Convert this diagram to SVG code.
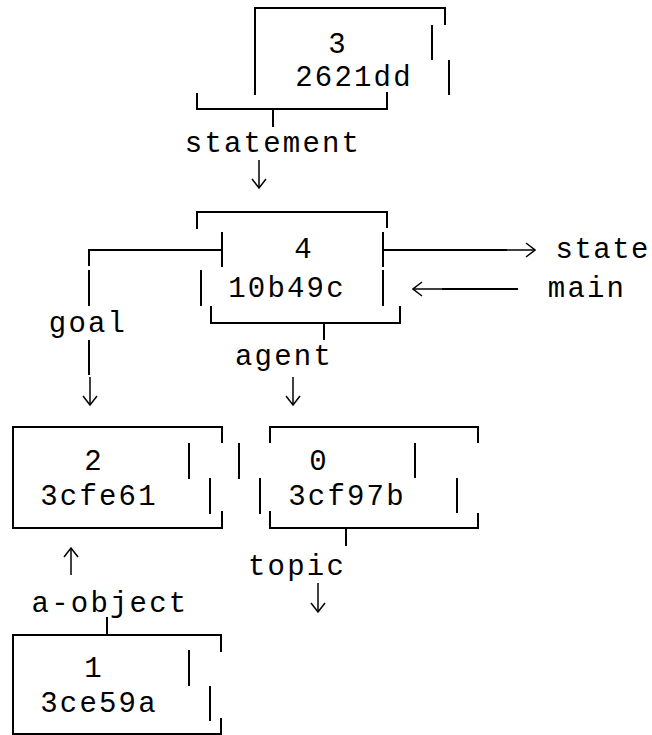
<svg xmlns="http://www.w3.org/2000/svg" width="652" height="735" viewBox="0 0 652 735">
<style>
.b { stroke:#000; stroke-width:2; fill:none; stroke-linecap:butt; stroke-linejoin:miter }
.a { stroke:#000; stroke-width:1.5; fill:none }
text { font-family:"Liberation Mono","Courier New",monospace; font-size:29px; letter-spacing:2.2px; fill:#000; text-anchor:middle }
</style>
<defs>
<marker id="ah" viewBox="0 0 11 16" refX="10" refY="8" markerWidth="11" markerHeight="16" markerUnits="userSpaceOnUse" orient="auto">
<path d="M1,1 L10,8 L1,15" stroke="#000" stroke-width="1.5" fill="none"/>
</marker>
</defs>
<rect width="652" height="735" fill="#fff"/>

<g id="node3">
<path class="b" d="M255,95 V8 H445 V25 M432,25 V60 M449,60 V95 M197,93 V109 H387 V92"/>
<text x="338" y="53">3</text>
<text x="354" y="86">2621dd</text>
</g>

<g id="node4">
<path class="b" d="M197,229 V212 H387 V228 M222,232 V267 M201,270 V306 M383,232 V267 M383,270 V306 M211,306 V323 H400 V306"/>
<text x="304" y="258">4</text>
<text x="287" y="297">10b49c</text>
</g>

<g id="node2">
<path class="b" d="M222,443 V427 H13 V528 H222 V511 M189,443 V479 M210,478 V514"/>
<text x="94" y="470">2</text>
<text x="99" y="505">3cfe61</text>
</g>

<g id="node0">
<path class="b" d="M270,443 V427 H478 V443 M270,511 V528 H478 V513 M239,443 V479 M260,478 V514 M415,443 V478 M457,478 V513"/>
<text x="319" y="470">0</text>
<text x="347" y="505">3cf97b</text>
</g>

<g id="node1">
<path class="b" d="M221,652 V635 H13 V734 H221 V718 M189,650 V686 M210,686 V721"/>
<text x="94" y="677">1</text>
<text x="99" y="712">3ce59a</text>
</g>

<g id="connectors">
<!-- statement: 3 -> 4 -->
<path class="b" d="M273,109 V127"/>
<text x="273" y="152">statement</text>
<path class="a" d="M259,160 V188" marker-end="url(#ah)"/>
<!-- goal: 4 -> 2 -->
<path class="b" d="M222,250 H89 V266 M89,270 V306 M89,340 V375"/>
<text x="88" y="332">goal</text>
<path class="a" d="M90,377 V405" marker-end="url(#ah)"/>
<!-- state -->
<path class="b" d="M383,250 H507"/>
<path class="a" d="M506,250 H535" marker-end="url(#ah)"/>
<text x="650" y="258" style="text-anchor:end;letter-spacing:1.5px">state</text>
<!-- main -->
<path class="b" d="M518,289 H442"/>
<path class="a" d="M443,289 H413" marker-end="url(#ah)"/>
<text x="587" y="297">main</text>
<!-- agent: 4 -> 0 -->
<path class="b" d="M324,323 V340"/>
<text x="284" y="365">agent</text>
<path class="a" d="M293,377 V405" marker-end="url(#ah)"/>
<!-- topic -->
<path class="b" d="M346,528 V546"/>
<text x="297" y="575">topic</text>
<path class="a" d="M318,583 V612" marker-end="url(#ah)"/>
<!-- a-object: 1 -> 2 -->
<path class="a" d="M71,575 V548" marker-end="url(#ah)"/>
<text x="110" y="612">a-object</text>
<path class="b" d="M107,617 V635"/>
</g>
</svg>
